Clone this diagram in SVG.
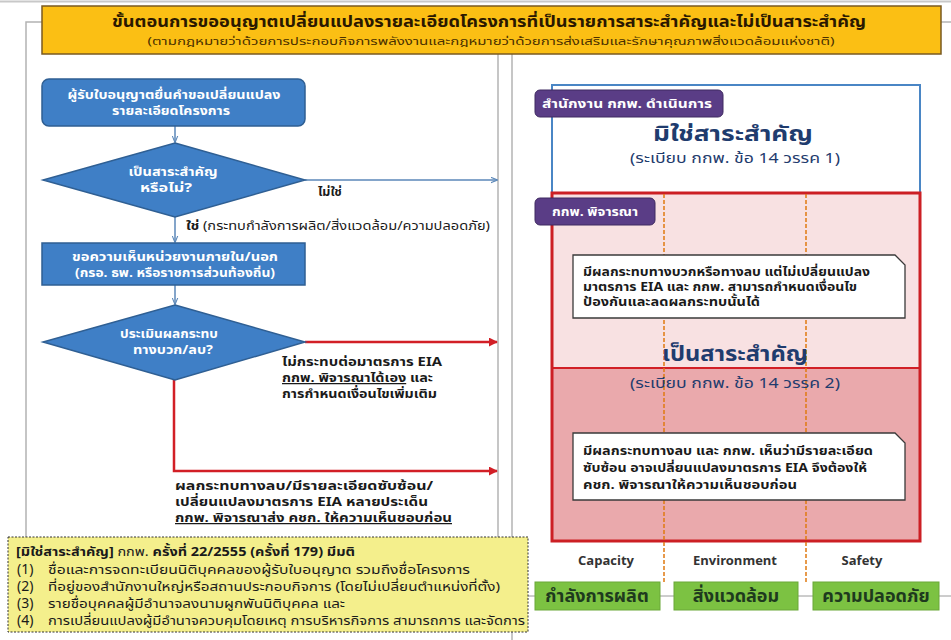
<svg xmlns="http://www.w3.org/2000/svg" width="951" height="640" viewBox="0 0 951 640">
<defs>
<style>
text{font-family:"Noto Sans Thai","Liberation Sans","Noto Sans",sans-serif}
.frame{stroke:#b3b3b3;stroke-width:1.5;fill:none}
.bbox{fill:#3f7fc6;stroke:#2f5f93;stroke-width:1.5}
.wt{fill:#fff;font-weight:bold;font-size:12px}
.lbl{fill:#1a1a1a;font-weight:bold;font-size:12.5px}
.pur{fill:#5a3d86;stroke:#3f2a60;stroke-width:1}
.pt{fill:#fff;font-weight:bold;font-size:11.5px}
.big{fill:#1f3c6e;font-weight:bold;font-size:22px}
.sub{fill:#1f3c6e;font-size:13.5px}
.call{fill:#fff;stroke:#3a3a3a;stroke-width:1.3}
.ct{fill:#1a1a1a;font-weight:bold;font-size:12px}
.grn{fill:#7cc242;stroke:#6aa838;stroke-width:1}
.gt{fill:#1e3a1e;font-weight:bold;font-size:18px}
.cat{fill:#333;font-weight:bold;font-size:13px}
.note{fill:#1a1a1a;font-size:12.5px}
.num{fill:#1a1a1a;font-size:14px}
.blu{stroke:#5b87b8;stroke-width:1.5;fill:none}
.red{stroke:#d21f26;stroke-width:2.5;fill:none}
.od{stroke:#e07a10;stroke-width:1.5;stroke-dasharray:4,2;fill:none}
</style>
<marker id="ab" viewBox="0 0 10 10" refX="9" refY="5" markerWidth="7" markerHeight="7" orient="auto" markerUnits="userSpaceOnUse"><path d="M0,1 L10,5 L0,9" fill="none" stroke="#5b87b8" stroke-width="1.5"/></marker>
<marker id="ar" viewBox="0 0 10 10" refX="9" refY="5" markerWidth="9" markerHeight="9" orient="auto" markerUnits="userSpaceOnUse"><path d="M0,0 L10,5 L0,10 Z" fill="#d21f26"/></marker>
</defs>
<rect width="951" height="640" fill="#fff"/>
<line x1="0" y1="1.5" x2="951" y2="1.5" stroke="#c8c8c8" stroke-width="2"/>

<g id="frames">
<polyline class="frame" points="42,22 26,22 26,537"/>
<line class="frame" x1="498" y1="54" x2="498" y2="537"/>
<line class="frame" x1="512" y1="54" x2="512" y2="640"/>
<line class="frame" x1="941" y1="22" x2="951" y2="22"/>
</g>

<g id="title">
<rect x="42" y="6" width="899" height="48" fill="#fbbf14" stroke="#7a5a20" stroke-width="1.5"/>
<text x="489" y="27" text-anchor="middle" font-size="15.5" font-weight="bold" fill="#2a1800" textLength="754" lengthAdjust="spacingAndGlyphs">ขั้นตอนการขออนุญาตเปลี่ยนแปลงรายละเอียดโครงการที่เป็นรายการสาระสำคัญและไม่เป็นสาระสำคัญ</text>
<text x="491" y="45" text-anchor="middle" font-size="11" fill="#4a3000" textLength="687" lengthAdjust="spacingAndGlyphs">(ตามกฎหมายว่าด้วยการประกอบกิจการพลังงานและกฎหมายว่าด้วยการส่งเสริมและรักษาคุณภาพสิ่งแวดล้อมแห่งชาติ)</text>
</g>

<g id="connectors">
<line class="blu" x1="175" y1="126" x2="175" y2="142" marker-end="url(#ab)"/>
<line class="blu" x1="305" y1="180" x2="497" y2="180" marker-end="url(#ab)"/>
<line class="blu" x1="175" y1="217" x2="175" y2="242" marker-end="url(#ab)"/>
<line class="blu" x1="175" y1="285" x2="175" y2="304" marker-end="url(#ab)"/>
<line class="red" x1="305" y1="342" x2="497" y2="342" marker-end="url(#ar)"/>
<polyline class="red" points="174,380 174,471 497,471" marker-end="url(#ar)"/>
<text class="lbl" x="318" y="196">ไม่ใช่</text>
<text class="lbl" x="186" y="230" textLength="304" lengthAdjust="spacingAndGlyphs">ใช่ <tspan font-weight="normal">(กระทบกำลังการผลิต/สิ่งแวดล้อม/ความปลอดภัย)</tspan></text>
<text class="lbl"><tspan x="282" y="366" textLength="160" lengthAdjust="spacingAndGlyphs">ไม่กระทบต่อมาตรการ EIA</tspan><tspan x="282" y="382" textLength="151" lengthAdjust="spacingAndGlyphs"><tspan text-decoration="underline">กกพ. พิจารณาได้เอง</tspan> และ</tspan><tspan x="282" y="398" textLength="155" lengthAdjust="spacingAndGlyphs">การกำหนดเงื่อนไขเพิ่มเติม</tspan></text>
<text class="lbl"><tspan x="175" y="490" textLength="258" lengthAdjust="spacingAndGlyphs">ผลกระทบทางลบ/มีรายละเอียดซับซ้อน/</tspan><tspan x="175" y="506" textLength="253" lengthAdjust="spacingAndGlyphs">เปลี่ยนแปลงมาตรการ EIA หลายประเด็น</tspan><tspan x="175" y="522" textLength="277" lengthAdjust="spacingAndGlyphs" text-decoration="underline">กกพ. พิจารณาส่ง คชก. ให้ความเห็นชอบก่อน</tspan></text>
</g>

<g id="n-start">
<rect class="bbox" x="42" y="79" width="263" height="47" rx="7"/>
<text class="wt" text-anchor="middle"><tspan x="174" y="99" textLength="213" lengthAdjust="spacingAndGlyphs">ผู้รับใบอนุญาตยื่นคำขอเปลี่ยนแปลง</tspan><tspan x="171" y="115" textLength="118" lengthAdjust="spacingAndGlyphs">รายละเอียดโครงการ</tspan></text>
</g>
<g id="n-dec1">
<polygon class="bbox" points="175,143 305,180 175,217 43,180"/>
<text class="wt" text-anchor="middle"><tspan x="173" y="176" textLength="89" lengthAdjust="spacingAndGlyphs">เป็นสาระสำคัญ</tspan><tspan x="166" y="192" textLength="52" lengthAdjust="spacingAndGlyphs">หรือไม่?</tspan></text>
</g>
<g id="n-ask">
<rect class="bbox" x="42" y="243" width="263" height="42"/>
<text class="wt" text-anchor="middle"><tspan x="175" y="261" textLength="206" lengthAdjust="spacingAndGlyphs">ขอความเห็นหน่วยงานภายใน/นอก</tspan><tspan x="175" y="277" textLength="200" lengthAdjust="spacingAndGlyphs">(กรอ. ธพ. หรือราชการส่วนท้องถิ่น)</tspan></text>
</g>
<g id="n-dec2">
<polygon class="bbox" points="175,305 305,342 175,380 43,342"/>
<text class="wt" text-anchor="middle"><tspan x="169" y="338" textLength="98" lengthAdjust="spacingAndGlyphs">ประเมินผลกระทบ</tspan><tspan x="173" y="354" textLength="80" lengthAdjust="spacingAndGlyphs">ทางบวก/ลบ?</tspan></text>
</g>

<g id="n-minor">
<rect x="552" y="85" width="368" height="108" fill="#fff" stroke="#4a86c5" stroke-width="2"/>
<rect class="pur" x="535" y="90" width="188" height="27" rx="5"/>
<text class="pt" x="542" y="108" textLength="170" lengthAdjust="spacingAndGlyphs">สำนักงาน กกพ. ดำเนินการ</text>
<text class="big" x="733" y="141" text-anchor="middle" textLength="160" lengthAdjust="spacingAndGlyphs">มิใช่สาระสำคัญ</text>
<text class="sub" x="735" y="163" text-anchor="middle" textLength="210" lengthAdjust="spacingAndGlyphs">(ระเบียบ กกพ. ข้อ 14 วรรค 1)</text>
</g>

<g id="n-major">
<rect x="552" y="193" width="368" height="175" fill="#f8e1e2"/>
<rect x="552" y="368" width="368" height="173" fill="#eaa9ac"/>
<line x1="552" y1="368" x2="920" y2="368" stroke="#d21f26" stroke-width="2"/>
<rect x="552" y="193" width="368" height="348" fill="none" stroke="#cc1f24" stroke-width="3"/>
<line class="od" x1="664" y1="194" x2="664" y2="582"/>
<line class="od" x1="806" y1="194" x2="806" y2="582"/>
<rect class="pur" x="535" y="198" width="120" height="27" rx="5"/>
<text class="pt" x="552" y="216" textLength="86" lengthAdjust="spacingAndGlyphs">กกพ. พิจารณา</text>
<text class="big" x="735" y="361" text-anchor="middle" textLength="146" lengthAdjust="spacingAndGlyphs">เป็นสาระสำคัญ</text>
<text class="sub" x="735" y="388" text-anchor="middle" textLength="210" lengthAdjust="spacingAndGlyphs">(ระเบียบ กกพ. ข้อ 14 วรรค 2)</text>
</g>

<g id="n-call1">
<path class="call" d="M573,255 H895 L905,265 V318 H573 Z"/>
<text class="ct"><tspan x="583" y="276" textLength="287" lengthAdjust="spacingAndGlyphs">มีผลกระทบทางบวกหรือทางลบ แต่ไม่เปลี่ยนแปลง</tspan><tspan x="583" y="291" textLength="274" lengthAdjust="spacingAndGlyphs">มาตรการ EIA และ กกพ. สามารถกำหนดเงื่อนไข</tspan><tspan x="583" y="306" textLength="177" lengthAdjust="spacingAndGlyphs">ป้องกันและลดผลกระทบนั้นได้</tspan></text>
</g>
<g id="n-call2">
<path class="call" d="M573,433 H895 L905,443 V500 H573 Z"/>
<text class="ct"><tspan x="583" y="455" textLength="290" lengthAdjust="spacingAndGlyphs">มีผลกระทบทางลบ และ กกพ. เห็นว่ามีรายละเอียด</tspan><tspan x="583" y="472" textLength="284" lengthAdjust="spacingAndGlyphs">ซับซ้อน อาจเปลี่ยนแปลงมาตรการ EIA จึงต้องให้</tspan><tspan x="583" y="489" textLength="214" lengthAdjust="spacingAndGlyphs">คชก. พิจารณาให้ความเห็นชอบก่อน</tspan></text>
</g>

<g id="n-cats">
<line x1="528" y1="596" x2="951" y2="596" stroke="#9a9a9a" stroke-width="1"/>
<text class="cat" x="606" y="565" text-anchor="middle">Capacity</text>
<text class="cat" x="735" y="565" text-anchor="middle">Environment</text>
<text class="cat" x="862" y="565" text-anchor="middle">Safety</text>
<rect class="grn" x="535" y="582" width="125" height="28"/>
<text class="gt" x="597" y="602" text-anchor="middle">กำลังการผลิต</text>
<rect class="grn" x="674" y="582" width="124" height="28"/>
<text class="gt" x="736" y="602" text-anchor="middle">สิ่งแวดล้อม</text>
<rect class="grn" x="813" y="582" width="126" height="28"/>
<text class="gt" x="876" y="602" text-anchor="middle">ความปลอดภัย</text>
</g>

<g id="n-note">
<rect x="8" y="537" width="520" height="95" fill="#f4ef8c" stroke="#333" stroke-width="1" stroke-dasharray="2,1.5"/>
<text class="note"><tspan x="16" y="556" font-weight="bold" textLength="339" lengthAdjust="spacingAndGlyphs">[มิใช่สาระสำคัญ] <tspan font-weight="normal">กกพ.</tspan> ครั้งที่ 22/2555 (ครั้งที่ 179) มีมติ</tspan><tspan class="num" x="17" y="574">(1)</tspan><tspan x="48" y="574" textLength="422" lengthAdjust="spacingAndGlyphs">ชื่อและการจดทะเบียนนิติบุคคลของผู้รับใบอนุญาต รวมถึงชื่อโครงการ</tspan><tspan class="num" x="17" y="591">(2)</tspan><tspan x="48" y="591" textLength="452" lengthAdjust="spacingAndGlyphs">ที่อยู่ของสำนักงานใหญ่หรือสถานประกอบกิจการ (โดยไม่เปลี่ยนตำแหน่งที่ตั้ง)</tspan><tspan class="num" x="17" y="608">(3)</tspan><tspan x="48" y="608" textLength="297" lengthAdjust="spacingAndGlyphs">รายชื่อบุคคลผู้มีอำนาจลงนามผูกพันนิติบุคคล และ</tspan><tspan class="num" x="17" y="625">(4)</tspan><tspan x="48" y="625" textLength="477" lengthAdjust="spacingAndGlyphs">การเปลี่ยนแปลงผู้มีอำนาจควบคุมโดยเหตุ การบริหารกิจการ สามารถการ และจัดการ</tspan></text>
</g>
</svg>
